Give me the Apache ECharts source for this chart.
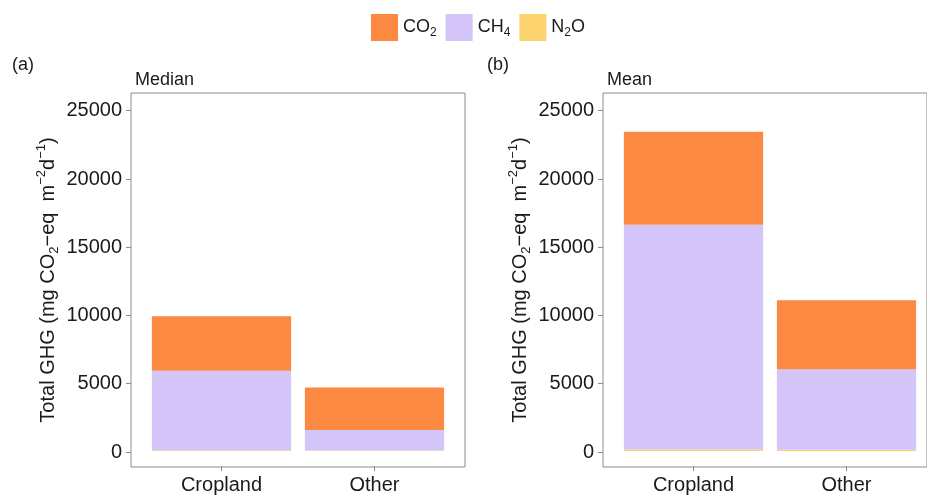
<!DOCTYPE html>
<html>
<head>
<meta charset="utf-8">
<script src="https://cdn.jsdelivr.net/npm/echarts@6/dist/echarts.min.js"></script>
<style>
  html, body { margin: 0; padding: 0; background: #fff; }
  #chart { width: 927px; height: 495px; }
</style>
</head>
<body>
<div id="chart"></div>
<script>
// Total GHG emissions by land use, split by gas
const categories = ['Cropland', 'Other'];
const yTicks = [0, 5000, 10000, 15000, 20000, 25000];
const gases = ['CO2', 'CH4', 'N2O'];

// Median panel (mg CO2-eq m^-2 d^-1)
const medianN2O = [60, 40];
const medianCH4 = [5840, 1510];
const medianCO2 = [4000, 3120];

// Mean panel (mg CO2-eq m^-2 d^-1)
const meanN2O = [110, 90];
const meanCH4 = [16510, 5910];
const meanCO2 = [6840, 5070];

const colors = { CO2: '#FC8942', CH4: '#D4C5F9', N2O: '#FDD36F' };
const textColor = '#1a1a1a';
const frameColor = '#8c8c8c';
const font = 'Liberation Sans, Arial, sans-serif';
const yMin = -1100, yMax = 26300;

const gasRich = {
  CO2: '{b|CO}{s|2}',
  CH4: '{b|CH}{s|4}',
  N2O: '{b|N}{s|2}{b|O}'
};

// Each panel uses a frame grid (border + y axis) and an inner data grid
// (category band area with the bars), so the bars sit inset from the frame.
const grids = [
  { left: 131, right: 462, top: 93, bottom: 28, show: true, borderColor: frameColor, borderWidth: 1 },
  { left: 145, right: 476, top: 93, bottom: 28 },
  { left: 603, right: -10, top: 93, bottom: 28, show: true, borderColor: frameColor, borderWidth: 1 },
  { left: 617, right: 4, top: 93, bottom: 28 }
];

function frameXAxis(gridIndex) {
  return { type: 'value', gridIndex, show: false, min: 0, max: 1 };
}

function dataXAxis(gridIndex) {
  return {
    type: 'category', gridIndex, data: categories,
    axisLine: { show: false, onZero: false },
    axisTick: { show: true, alignWithLabel: true, length: 5, lineStyle: { color: frameColor } },
    axisLabel: { fontSize: 20, color: textColor, fontFamily: font, margin: 9 }
  };
}

function frameYAxis(gridIndex) {
  return {
    type: 'value', gridIndex, min: yMin, max: yMax,
    axisLine: { show: false, onZero: false },
    splitLine: { show: false },
    axisTick: { show: true, customValues: yTicks, length: 5, lineStyle: { color: frameColor } },
    axisLabel: { customValues: yTicks, formatter: v => String(v),
      fontSize: 20, color: textColor, fontFamily: font, margin: 9 },
    name: '{t|Total GHG (mg CO}{s|2}{t|\u2212eq  m}{p|\u22122}{t|d}{p|\u22121}{t|)}',
    nameLocation: 'middle', nameRotate: 90, nameGap: 70,
    nameTextStyle: {
      fontFamily: font, color: textColor,
      rich: {
        t: { fontSize: 20, lineHeight: 26, fontFamily: font, color: textColor },
        s: { fontSize: 13, lineHeight: 14, verticalAlign: 'bottom', fontFamily: font, color: textColor },
        p: { fontSize: 13, lineHeight: 14, verticalAlign: 'top', fontFamily: font, color: textColor }
      }
    }
  };
}

function dataYAxis(gridIndex) {
  return { type: 'value', gridIndex, show: false, min: yMin, max: yMax, splitLine: { show: false } };
}

function stackSeries(idx, n2o, ch4, co2) {
  const layers = [['N2O', n2o], ['CH4', ch4], ['CO2', co2]];
  return layers.map(([name, vals]) => ({
    name, type: 'bar', xAxisIndex: idx, yAxisIndex: idx, stack: 'total' + idx,
    barWidth: '91%',
    itemStyle: { color: colors[name] },
    data: vals
  }));
}

const chart = echarts.init(document.getElementById('chart'), null, { renderer: 'canvas' });
chart.setOption({
  animation: false,
  backgroundColor: '#ffffff',
  textStyle: { fontFamily: font },
  title: [
    { text: '(a)', left: 7, top: 51, textStyle: { fontSize: 18, fontWeight: 'normal', color: textColor, fontFamily: font } },
    { text: 'Median', left: 130, top: 66, textStyle: { fontSize: 18, fontWeight: 'normal', color: textColor, fontFamily: font } },
    { text: '(b)', left: 482, top: 51, textStyle: { fontSize: 18, fontWeight: 'normal', color: textColor, fontFamily: font } },
    { text: 'Mean', left: 602, top: 66, textStyle: { fontSize: 18, fontWeight: 'normal', color: textColor, fontFamily: font } }
  ],
  legend: {
    data: gases, left: 366, top: 9, icon: 'rect',
    itemWidth: 27, itemHeight: 27, itemGap: 9,
    formatter: name => gasRich[name],
    textStyle: {
      fontFamily: font, color: textColor,
      rich: {
        b: { fontSize: 18, lineHeight: 22, fontFamily: font, color: textColor },
        s: { fontSize: 12, lineHeight: 12, verticalAlign: 'bottom', fontFamily: font, color: textColor }
      }
    }
  },
  grid: grids,
  xAxis: [frameXAxis(0), dataXAxis(1), frameXAxis(2), dataXAxis(3)],
  yAxis: [frameYAxis(0), dataYAxis(1), frameYAxis(2), dataYAxis(3)],
  series: [
    ...stackSeries(1, medianN2O, medianCH4, medianCO2),
    ...stackSeries(3, meanN2O, meanCH4, meanCO2)
  ]
});
</script>
</body>
</html>
